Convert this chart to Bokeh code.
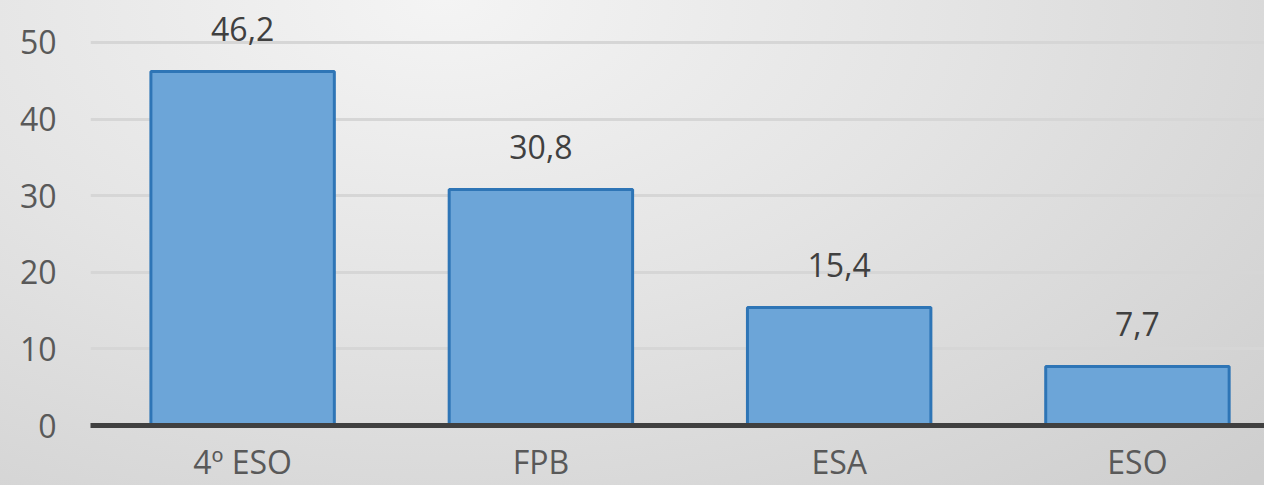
from bokeh.plotting import figure
from bokeh.models import Range1d, ColumnDataSource, FixedTicker
from bokeh.core.properties import value
from bokeh.embed import file_html
from bokeh.resources import INLINE

categories = ["4º ESO", "FPB", "ESA", "ESO"]
values = [46.2, 30.8, 15.4, 7.7]
y_ticks = [0, 10, 20, 30, 40, 50]

xs = list(range(len(categories)))
labels = [("%.1f" % v).replace(".", ",") for v in values]
src = ColumnDataSource(data=dict(x=xs, top=values, label=labels))

FONT = "Open Sans"
FS = "32px"

p = figure(width=1264, height=485, output_backend="svg", toolbar_location=None,
           x_range=Range1d(-0.51, 3.426), y_range=Range1d(0, 55.48),
           min_border_left=90, min_border_right=0, min_border_top=0, min_border_bottom=0)

p.styles = {"background": "radial-gradient(ellipse 90% 140% at 35% 0%, #f4f4f4 0%, #e4e4e4 45%, #cecece 100%)"}
p.background_fill_alpha = 0
p.border_fill_alpha = 0
p.outline_line_color = None

p.vbar(x="x", top="top", bottom=0, width=0.615, source=src,
       fill_color="#6ca5d8", line_color="#2e75b6", line_width=3)

p.text(x="x", y="top", text="label", source=src, text_align="center",
       text_baseline="bottom", y_offset=-31, text_font=value(FONT),
       text_font_size=FS, text_color="#404040")

p.xaxis.ticker = FixedTicker(ticks=xs)
p.xaxis.major_label_overrides = {i: c for i, c in zip(xs, categories)}
p.xaxis.axis_line_color = "#404040"
p.xaxis.axis_line_width = 5
p.xaxis.major_tick_line_color = None
p.xaxis.major_tick_out = 0
p.xaxis.major_tick_in = 0
p.xaxis.minor_tick_line_color = None
p.xaxis.minor_tick_out = 0
p.xaxis.axis_label_standoff = 0
p.xaxis.major_label_text_font = FONT
p.xaxis.major_label_text_font_size = FS
p.xaxis.major_label_text_color = "#595959"
p.xaxis.major_label_standoff = 14

p.yaxis.ticker = FixedTicker(ticks=y_ticks)
p.yaxis.axis_line_color = None
p.yaxis.major_tick_line_color = None
p.yaxis.major_tick_out = 0
p.yaxis.major_tick_in = 0
p.yaxis.minor_tick_line_color = None
p.yaxis.major_label_text_font = FONT
p.yaxis.major_label_text_font_size = FS
p.yaxis.major_label_text_color = "#595959"
p.yaxis.major_label_standoff = 34

p.xgrid.grid_line_color = None
p.ygrid.grid_line_color = "#d6d6d6"
p.ygrid.grid_line_width = 3

open("out.html", "w").write(file_html(p, INLINE))
